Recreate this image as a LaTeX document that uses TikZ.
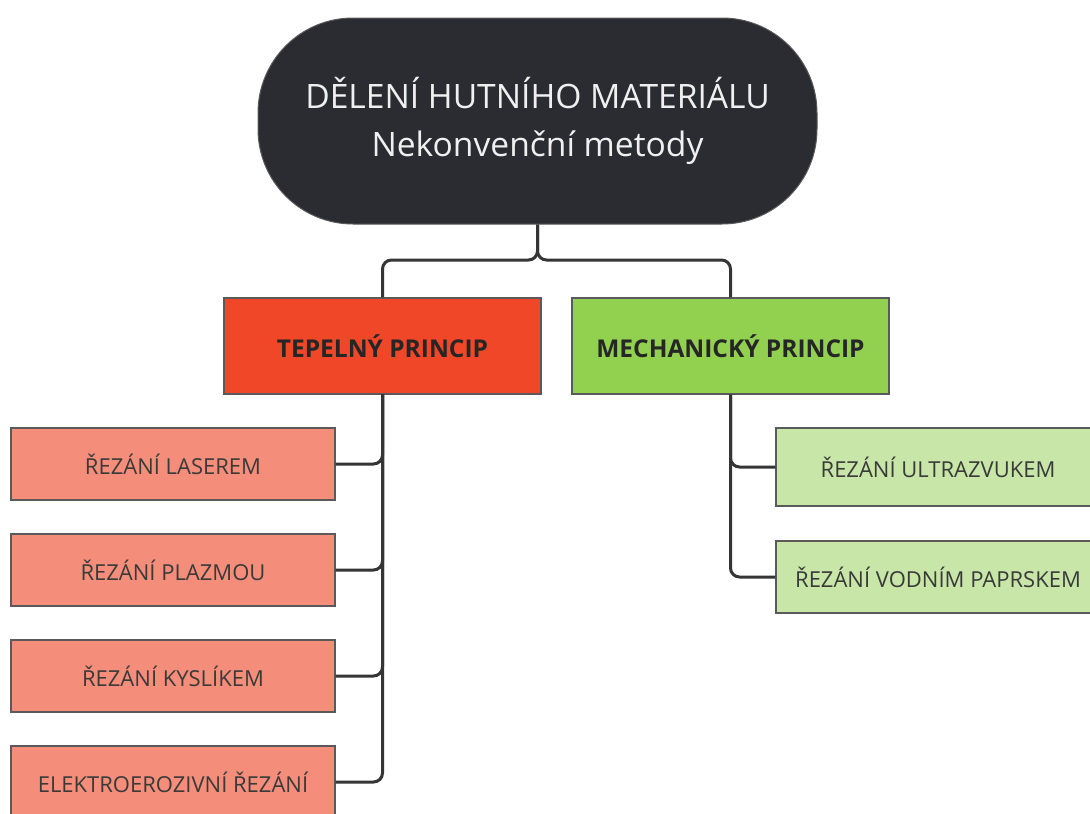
\documentclass[tikz,border=0pt]{standalone}
\usepackage{fontspec}
\setmainfont{Open Sans}
\definecolor{rootfill}{HTML}{2B2C31}
\definecolor{tepfill}{HTML}{EF4727}
\definecolor{mechfill}{HTML}{92D050}
\definecolor{tepchild}{HTML}{F48E7A}
\definecolor{mechchild}{HTML}{C7E6A7}
\definecolor{linecol}{HTML}{353535}
\definecolor{bordcol}{HTML}{5A5A5A}
\definecolor{txtcol}{HTML}{3A3A3A}
\begin{document}
\begin{tikzpicture}[x=1pt,y=-1pt,
  rootbox/.style={draw=bordcol,line width=1pt,fill=rootfill,rounded corners=95pt,minimum width=559pt,minimum height=206pt,text=white!94!black,font=\fontsize{33.6}{48}\selectfont,align=center,inner sep=0pt},
  princbox/.style={draw=bordcol,line width=1.2pt,minimum width=317pt,minimum height=96pt,font=\fontsize{24.5}{28}\selectfont\bfseries,text=black!85,inner sep=0pt},
  childbox/.style={draw=bordcol,line width=1.2pt,minimum width=324pt,minimum height=72pt,font=\fontsize{22}{26}\selectfont,text=txtcol,inner sep=0pt},
  conn/.style={draw=linecol,line width=3pt,rounded corners=9pt}]
\useasboundingbox (0,0) rectangle (1090,814);
\clip (0,0) rectangle (1090,814);
\fill[white] (0,0) rectangle (1090,814);
% nodes
\node[rootbox] (root) at (537.5,121) {DĚLENÍ HUTNÍHO MATERIÁLU\\Nekonvenční metody};
\node[princbox,fill=tepfill] (tep) at (382.5,346) {TEPELNÝ PRINCIP};
\node[princbox,fill=mechfill] (mech) at (730.5,346) {MECHANICKÝ PRINCIP};
\node[childbox,fill=tepchild] (t1) at (173,464) {ŘEZÁNÍ LASEREM};
\node[childbox,fill=tepchild] (t2) at (173,570) {ŘEZÁNÍ PLAZMOU};
\node[childbox,fill=tepchild] (t3) at (173,676) {ŘEZÁNÍ KYSLÍKEM};
\node[childbox,fill=tepchild] (t4) at (173,782) {ELEKTROEROZIVNÍ ŘEZÁNÍ};
\node[childbox,fill=mechchild,minimum height=78pt] (m1) at (938,467) {ŘEZÁNÍ ULTRAZVUKEM};
\node[childbox,fill=mechchild,minimum height=72pt] (m2) at (938,577) {ŘEZÁNÍ VODNÍM PAPRSKEM};
% connectors
\coordinate (j) at (537.5,260);
\draw[conn] (root.south) -- (j) -| (tep.north);
\draw[conn] (root.south) -- (j) -| (mech.north);
\draw[conn] (tep.south) |- (t1.east);
\draw[conn] (tep.south) |- (t2.east);
\draw[conn] (tep.south) |- (t3.east);
\draw[conn] (tep.south) |- (t4.east);
\draw[conn] (mech.south) |- (m1.west);
\draw[conn] (mech.south) |- (m2.west);
\end{tikzpicture}
\end{document}
